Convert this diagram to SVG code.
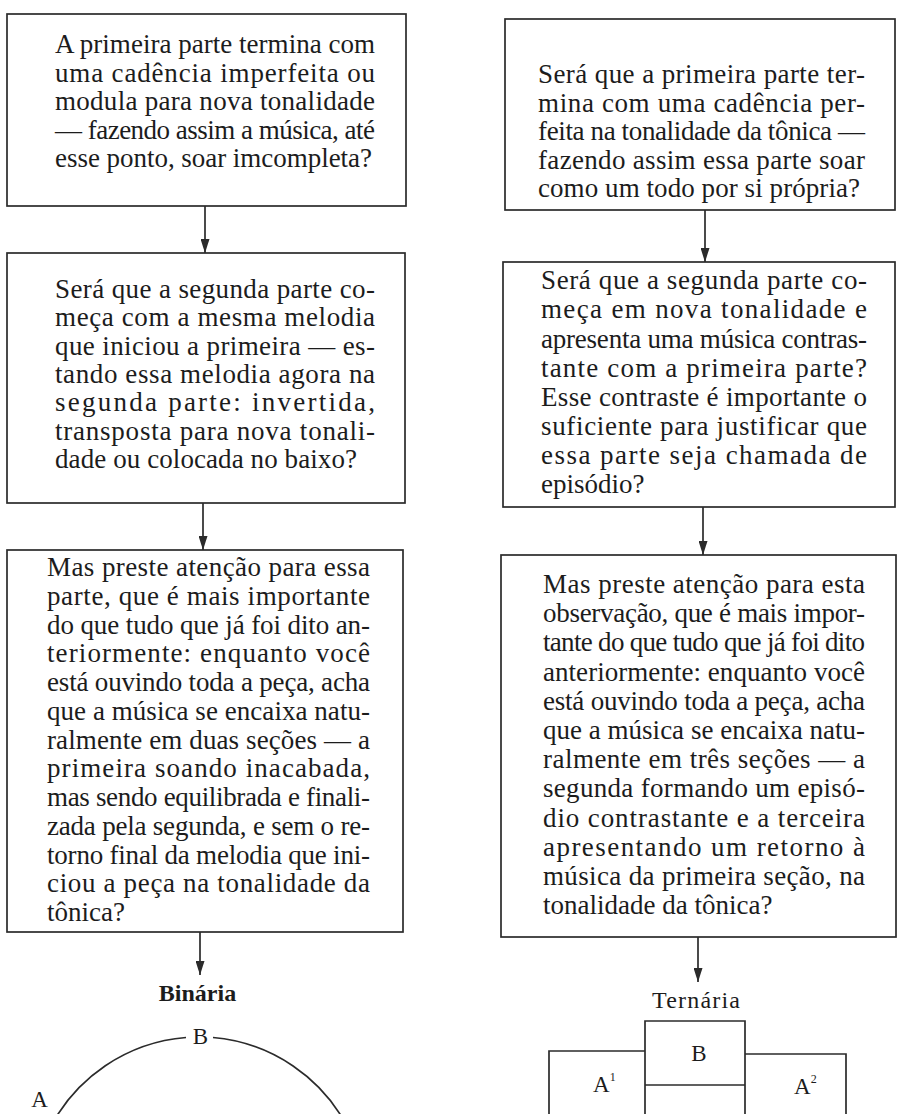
<svg xmlns="http://www.w3.org/2000/svg" width="898" height="1114" viewBox="0 0 898 1114">
<style>
.box{fill:#fff;stroke:#2b2b2b;stroke-width:1.7}
.ln{fill:none;stroke:#2b2b2b;stroke-width:1.7}
.t{font-family:"Liberation Serif","Times New Roman",serif;font-size:27px;fill:#1c1c1c}
.lbl{font-family:"Liberation Serif","Times New Roman",serif;font-size:23px;fill:#1c1c1c}
.ttl{font-family:"Liberation Serif","Times New Roman",serif;font-size:24px;fill:#1c1c1c}
</style>
<defs>
<marker id="ah" viewBox="0 0 14 9" refX="14" refY="4.5" markerWidth="14" markerHeight="9" markerUnits="userSpaceOnUse" orient="auto">
<path d="M0,0 L14,4.5 L0,9 z" fill="#2b2b2b"/>
</marker>
</defs>
<rect width="898" height="1114" fill="#fff"/>

<g id="connectors">
<line class="ln" x1="205" y1="206" x2="205" y2="253" marker-end="url(#ah)"/>
<line class="ln" x1="203" y1="503" x2="203" y2="550" marker-end="url(#ah)"/>
<line class="ln" x1="200" y1="932" x2="200" y2="975" marker-end="url(#ah)"/>
<line class="ln" x1="705" y1="210" x2="705" y2="262" marker-end="url(#ah)"/>
<line class="ln" x1="703" y1="507" x2="703" y2="555" marker-end="url(#ah)"/>
<line class="ln" x1="698" y1="937" x2="698" y2="982" marker-end="url(#ah)"/>
</g>

<g id="n-l1">
<rect class="box" x="7" y="14" width="399" height="192"/>
<text class="t" x="55" y="53" textLength="320" lengthAdjust="spacing">A primeira parte termina com</text>
<text class="t" x="55" y="81.5" textLength="320" lengthAdjust="spacing">uma cadência imperfeita ou</text>
<text class="t" x="55" y="110" textLength="320" lengthAdjust="spacing">modula para nova tonalidade</text>
<text class="t" x="55" y="138.5" textLength="320" lengthAdjust="spacing">— fazendo assim a música, até</text>
<text class="t" x="55" y="167" textLength="317" lengthAdjust="spacing">esse ponto, soar imcompleta?</text>
</g>

<g id="n-l2">
<rect class="box" x="7" y="253" width="398" height="250"/>
<text class="t" x="55" y="298" textLength="320" lengthAdjust="spacing">Será que a segunda parte co-</text>
<text class="t" x="55" y="326.3" textLength="320" lengthAdjust="spacing">meça com a mesma melodia</text>
<text class="t" x="55" y="354.6" textLength="320" lengthAdjust="spacing">que iniciou a primeira — es-</text>
<text class="t" x="55" y="383" textLength="320" lengthAdjust="spacing">tando essa melodia agora na</text>
<text class="t" x="55" y="411.3" textLength="320" lengthAdjust="spacing">segunda parte: invertida,</text>
<text class="t" x="55" y="439.6" textLength="320" lengthAdjust="spacing">transposta para nova tonali-</text>
<text class="t" x="55" y="468" textLength="302" lengthAdjust="spacing">dade ou colocada no baixo?</text>
</g>

<g id="n-l3">
<rect class="box" x="7" y="550" width="396" height="382"/>
<text class="t" x="47" y="576" textLength="323" lengthAdjust="spacing">Mas preste atenção para essa</text>
<text class="t" x="47" y="604.75" textLength="323" lengthAdjust="spacing">parte, que é mais importante</text>
<text class="t" x="47" y="633.5" textLength="323" lengthAdjust="spacing">do que tudo que já foi dito an-</text>
<text class="t" x="47" y="662.25" textLength="323" lengthAdjust="spacing">teriormente: enquanto você</text>
<text class="t" x="47" y="691" textLength="323" lengthAdjust="spacing">está ouvindo toda a peça, acha</text>
<text class="t" x="47" y="719.75" textLength="323" lengthAdjust="spacing">que a música se encaixa natu-</text>
<text class="t" x="47" y="748.5" textLength="323" lengthAdjust="spacing">ralmente em duas seções — a</text>
<text class="t" x="47" y="777.25" textLength="323" lengthAdjust="spacing">primeira soando inacabada,</text>
<text class="t" x="47" y="806" textLength="323" lengthAdjust="spacing">mas sendo equilibrada e finali-</text>
<text class="t" x="47" y="834.75" textLength="323" lengthAdjust="spacing">zada pela segunda, e sem o re-</text>
<text class="t" x="47" y="863.5" textLength="323" lengthAdjust="spacing">torno final da melodia que ini-</text>
<text class="t" x="47" y="892.25" textLength="323" lengthAdjust="spacing">ciou a peça na tonalidade da</text>
<text class="t" x="47" y="921">tônica?</text>
</g>

<g id="n-r1">
<rect class="box" x="505" y="19" width="390" height="191"/>
<text class="t" x="538" y="83" textLength="327" lengthAdjust="spacing">Será que a primeira parte ter-</text>
<text class="t" x="538" y="111.5" textLength="327" lengthAdjust="spacing">mina com uma cadência per-</text>
<text class="t" x="538" y="140" textLength="327" lengthAdjust="spacing">feita na tonalidade da tônica —</text>
<text class="t" x="538" y="168.5" textLength="327" lengthAdjust="spacing">fazendo assim essa parte soar</text>
<text class="t" x="538" y="197" textLength="322" lengthAdjust="spacing">como um todo por si própria?</text>
</g>

<g id="n-r2">
<rect class="box" x="503" y="262" width="392" height="245"/>
<text class="t" x="541" y="289.3" textLength="326" lengthAdjust="spacing">Será que a segunda parte co-</text>
<text class="t" x="541" y="318.4" textLength="326" lengthAdjust="spacing">meça em nova tonalidade e</text>
<text class="t" x="541" y="347.5" textLength="326" lengthAdjust="spacing">apresenta uma música contras-</text>
<text class="t" x="541" y="376.6" textLength="326" lengthAdjust="spacing">tante com a primeira parte?</text>
<text class="t" x="541" y="405.7" textLength="326" lengthAdjust="spacing">Esse contraste é importante o</text>
<text class="t" x="541" y="434.8" textLength="326" lengthAdjust="spacing">suficiente para justificar que</text>
<text class="t" x="541" y="463.9" textLength="326" lengthAdjust="spacing">essa parte seja chamada de</text>
<text class="t" x="541" y="493">episódio?</text>
</g>

<g id="n-r3">
<rect class="box" x="501" y="555" width="395" height="382"/>
<text class="t" x="543" y="593" textLength="322" lengthAdjust="spacing">Mas preste atenção para esta</text>
<text class="t" x="543" y="622.2" textLength="322" lengthAdjust="spacing">observação, que é mais impor-</text>
<text class="t" x="543" y="651.4" textLength="322" lengthAdjust="spacing">tante do que tudo que já foi dito</text>
<text class="t" x="543" y="680.6" textLength="322" lengthAdjust="spacing">anteriormente: enquanto você</text>
<text class="t" x="543" y="709.8" textLength="322" lengthAdjust="spacing">está ouvindo toda a peça, acha</text>
<text class="t" x="543" y="739" textLength="322" lengthAdjust="spacing">que a música se encaixa natu-</text>
<text class="t" x="543" y="768.2" textLength="322" lengthAdjust="spacing">ralmente em três seções — a</text>
<text class="t" x="543" y="797.4" textLength="322" lengthAdjust="spacing">segunda formando um episó-</text>
<text class="t" x="543" y="826.6" textLength="322" lengthAdjust="spacing">dio contrastante e a terceira</text>
<text class="t" x="543" y="855.8" textLength="322" lengthAdjust="spacing">apresentando um retorno à</text>
<text class="t" x="543" y="885" textLength="322" lengthAdjust="spacing">música da primeira seção, na</text>
<text class="t" x="543" y="914.2">tonalidade da tônica?</text>
</g>

<g id="binaria">
<text class="ttl" x="197.5" y="1001" text-anchor="middle" font-weight="bold">Binária</text>
<path class="ln" d="M49,1130 A168,168 0 0 1 186,1037.5"/>
<path class="ln" d="M213,1037.5 A168,168 0 0 1 349,1130"/>
<text class="lbl" x="200.5" y="1044" text-anchor="middle">B</text>
<text class="lbl" x="39.5" y="1107" text-anchor="middle">A</text>
</g>

<g id="ternaria">
<text class="ttl" x="696" y="1008" text-anchor="middle" font-size="25" textLength="88" lengthAdjust="spacing">Ternária</text>
<path class="ln" d="M645,1120 V1021 H745 V1120"/>
<path class="ln" d="M645,1085 H745"/>
<path class="ln" d="M549,1120 V1051 H645"/>
<path class="ln" d="M745,1054 H846 V1120"/>
<text class="lbl" x="699" y="1061" text-anchor="middle">B</text>
<text class="lbl" x="593" y="1092">A<tspan font-size="12" dy="-11">1</tspan></text>
<text class="lbl" x="794" y="1094">A<tspan font-size="12" dy="-11">2</tspan></text>
</g>
</svg>
